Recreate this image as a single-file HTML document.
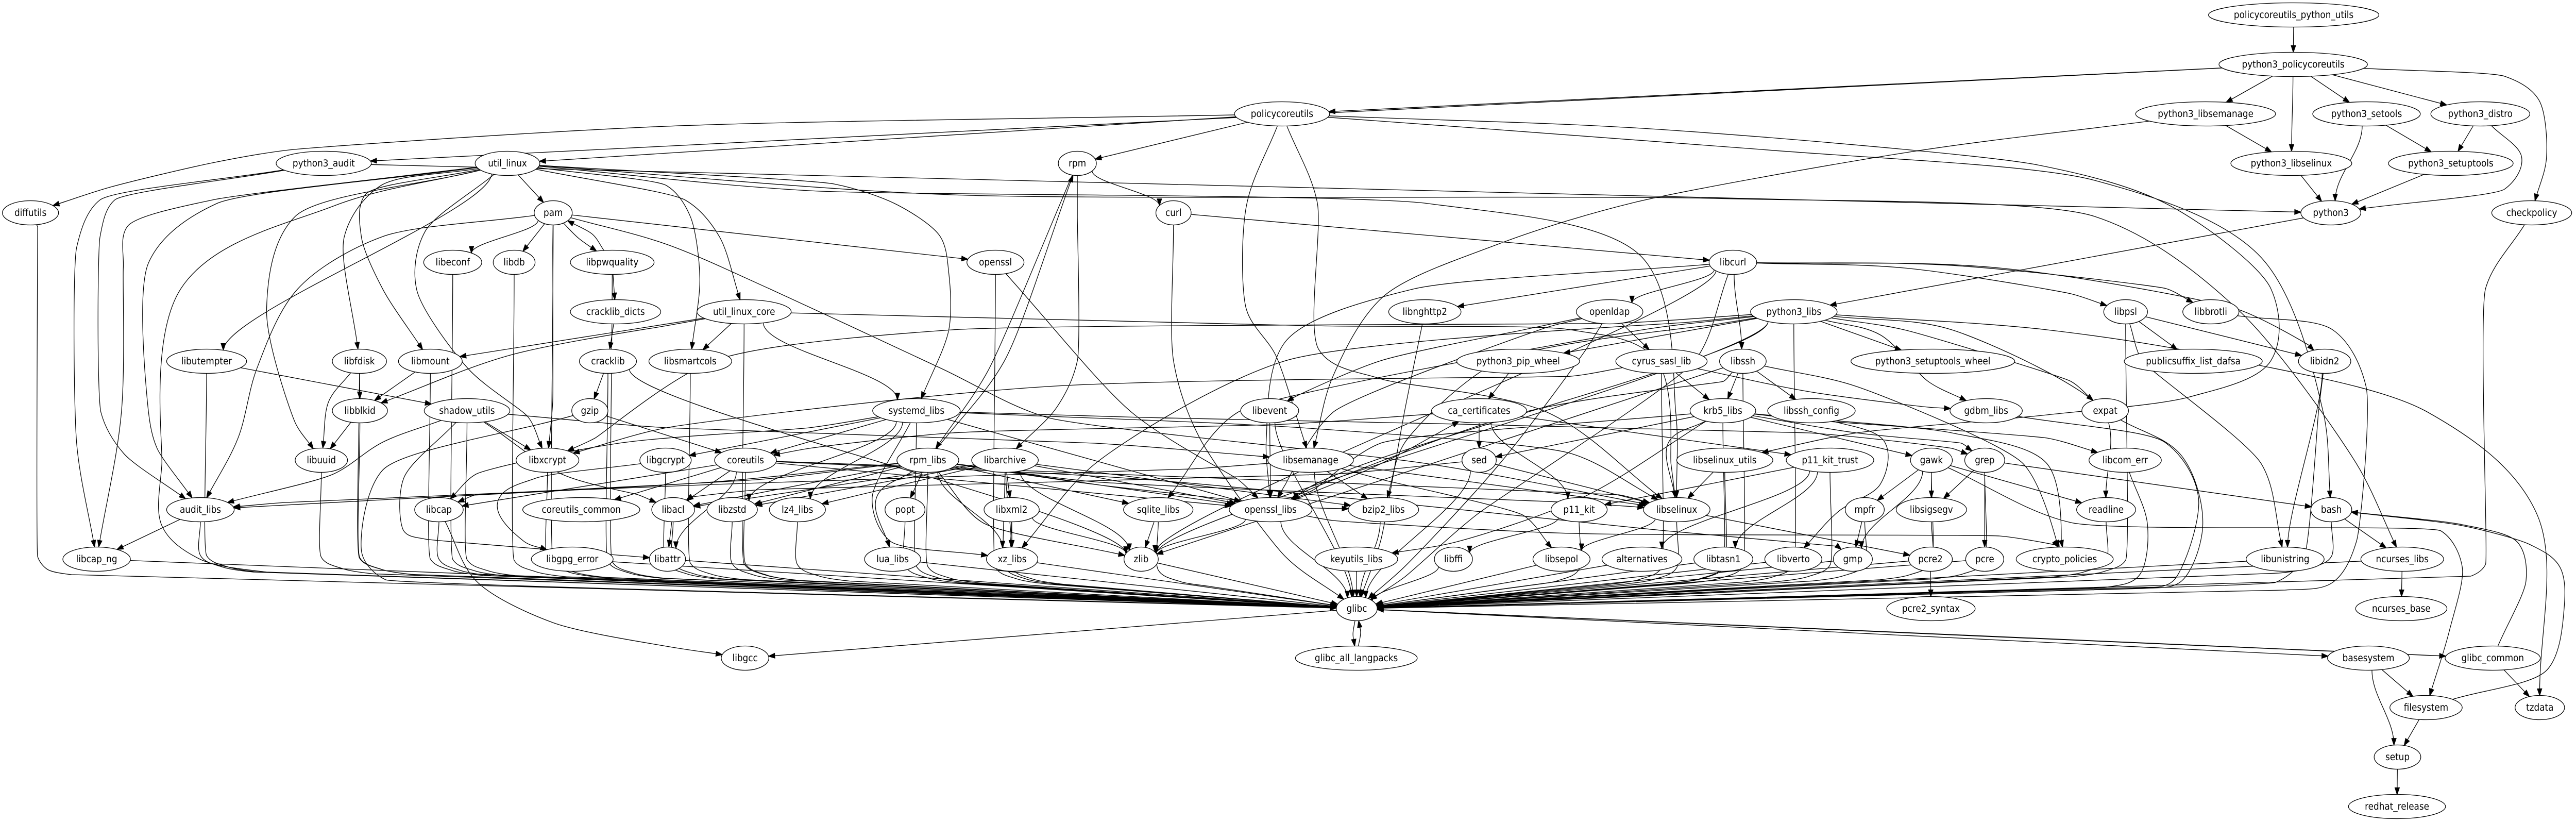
<!DOCTYPE html>
<html><head><meta charset="utf-8"><style>
html,body{margin:0;padding:0;background:#fff;width:100%;height:100%;overflow:hidden;}
svg{display:block;width:100vw;height:100vh;}
#nodes ellipse{fill:#fff;stroke:#000;stroke-width:1.33;}
#nodes text{font-family:"DejaVu Sans","Liberation Sans",sans-serif;font-size:18.2px;text-anchor:middle;fill:#000;}
</style></head><body>
<svg xmlns="http://www.w3.org/2000/svg" viewBox="0 0 5411 1595" preserveAspectRatio="none">
<rect width="5411" height="1595" fill="#fff"/>
<g id="edges"><path id="ep" fill="none" stroke="#000" stroke-width="1.33"/><path id="ap" fill="#000" stroke="#000" stroke-width="1.33"/></g>
<g id="nodes">
<ellipse id="policycoreutils_python_utils" cx="4818" cy="29" rx="179" ry="23.5"/><text x="4818" y="35">policycoreutils_python_utils</text>
<ellipse id="python3_policycoreutils" cx="4817" cy="125" rx="156" ry="23.5"/><text x="4817" y="131">python3_policycoreutils</text>
<ellipse id="policycoreutils" cx="2693" cy="221" rx="100" ry="23.5"/><text x="2693" y="227">policycoreutils</text>
<ellipse id="python3_libsemanage" cx="4633" cy="221" rx="147" ry="23.5"/><text x="4633" y="227">python3_libsemanage</text>
<ellipse id="python3_setools" cx="4971" cy="221" rx="113" ry="23.5"/><text x="4971" y="227">python3_setools</text>
<ellipse id="python3_distro" cx="5210" cy="221" rx="104" ry="23.5"/><text x="5210" y="227">python3_distro</text>
<ellipse id="python3_audit" cx="680" cy="317" rx="100" ry="23.5"/><text x="680" y="323">python3_audit</text>
<ellipse id="util_linux" cx="1066" cy="317" rx="68" ry="23.5"/><text x="1066" y="323">util_linux</text>
<ellipse id="rpm" cx="2263" cy="317" rx="40" ry="23.5"/><text x="2263" y="323">rpm</text>
<ellipse id="python3_libselinux" cx="4813" cy="317" rx="127" ry="23.5"/><text x="4813" y="323">python3_libselinux</text>
<ellipse id="python3_setuptools" cx="5148" cy="317" rx="131" ry="23.5"/><text x="5148" y="323">python3_setuptools</text>
<ellipse id="diffutils" cx="64" cy="413" rx="59" ry="23.5"/><text x="64" y="419">diffutils</text>
<ellipse id="pam" cx="1162" cy="413" rx="40" ry="23.5"/><text x="1162" y="419">pam</text>
<ellipse id="curl" cx="2465" cy="413" rx="37" ry="23.5"/><text x="2465" y="419">curl</text>
<ellipse id="python3" cx="4896" cy="413" rx="63" ry="23.5"/><text x="4896" y="419">python3</text>
<ellipse id="checkpolicy" cx="5318" cy="413" rx="84" ry="23.5"/><text x="5318" y="419">checkpolicy</text>
<ellipse id="libeconf" cx="951" cy="509" rx="61" ry="23.5"/><text x="951" y="515">libeconf</text>
<ellipse id="libdb" cx="1080" cy="509" rx="44" ry="23.5"/><text x="1080" y="515">libdb</text>
<ellipse id="libpwquality" cx="1286" cy="509" rx="88" ry="23.5"/><text x="1286" y="515">libpwquality</text>
<ellipse id="openssl" cx="2091" cy="509" rx="60" ry="23.5"/><text x="2091" y="515">openssl</text>
<ellipse id="libcurl" cx="3640" cy="509" rx="50" ry="23.5"/><text x="3640" y="515">libcurl</text>
<ellipse id="cracklib_dicts" cx="1293" cy="605" rx="95" ry="23.5"/><text x="1293" y="611">cracklib_dicts</text>
<ellipse id="util_linux_core" cx="1563" cy="605" rx="99" ry="23.5"/><text x="1563" y="611">util_linux_core</text>
<ellipse id="libnghttp2" cx="2993" cy="605" rx="76" ry="23.5"/><text x="2993" y="611">libnghttp2</text>
<ellipse id="openldap" cx="3381" cy="605" rx="70" ry="23.5"/><text x="3381" y="611">openldap</text>
<ellipse id="python3_libs" cx="3768" cy="605" rx="91" ry="23.5"/><text x="3768" y="611">python3_libs</text>
<ellipse id="libpsl" cx="4465" cy="605" rx="46" ry="23.5"/><text x="4465" y="611">libpsl</text>
<ellipse id="libbrotli" cx="4644" cy="605" rx="59" ry="23.5"/><text x="4644" y="611">libbrotli</text>
<ellipse id="libutempter" cx="434" cy="701" rx="84" ry="23.5"/><text x="434" y="707">libutempter</text>
<ellipse id="libfdisk" cx="755" cy="701" rx="57" ry="23.5"/><text x="755" y="707">libfdisk</text>
<ellipse id="libmount" cx="904" cy="701" rx="67" ry="23.5"/><text x="904" y="707">libmount</text>
<ellipse id="cracklib" cx="1277" cy="701" rx="60" ry="23.5"/><text x="1277" y="707">cracklib</text>
<ellipse id="libsmartcols" cx="1450" cy="701" rx="87" ry="23.5"/><text x="1450" y="707">libsmartcols</text>
<ellipse id="python3_pip_wheel" cx="3189" cy="701" rx="129" ry="23.5"/><text x="3189" y="707">python3_pip_wheel</text>
<ellipse id="cyrus_sasl_lib" cx="3490" cy="701" rx="96" ry="23.5"/><text x="3490" y="707">cyrus_sasl_lib</text>
<ellipse id="libssh" cx="3661" cy="701" rx="49" ry="23.5"/><text x="3661" y="707">libssh</text>
<ellipse id="python3_setuptools_wheel" cx="4060" cy="701" rx="172" ry="23.5"/><text x="4060" y="707">python3_setuptools_wheel</text>
<ellipse id="publicsuffix_list_dafsa" cx="4607" cy="701" rx="145" ry="23.5"/><text x="4607" y="707">publicsuffix_list_dafsa</text>
<ellipse id="libidn2" cx="4883" cy="701" rx="55" ry="23.5"/><text x="4883" y="707">libidn2</text>
<ellipse id="libblkid" cx="756" cy="797" rx="58" ry="23.5"/><text x="756" y="803">libblkid</text>
<ellipse id="shadow_utils" cx="981" cy="797" rx="90" ry="23.5"/><text x="981" y="803">shadow_utils</text>
<ellipse id="gzip" cx="1239" cy="797" rx="38" ry="23.5"/><text x="1239" y="803">gzip</text>
<ellipse id="systemd_libs" cx="1925" cy="797" rx="92" ry="23.5"/><text x="1925" y="803">systemd_libs</text>
<ellipse id="libevent" cx="2667" cy="797" rx="61" ry="23.5"/><text x="2667" y="803">libevent</text>
<ellipse id="ca_certificates" cx="3107" cy="797" rx="100" ry="23.5"/><text x="3107" y="803">ca_certificates</text>
<ellipse id="krb5_libs" cx="3619" cy="797" rx="69" ry="23.5"/><text x="3619" y="803">krb5_libs</text>
<ellipse id="libssh_config" cx="3805" cy="797" rx="92" ry="23.5"/><text x="3805" y="803">libssh_config</text>
<ellipse id="gdbm_libs" cx="4172" cy="797" rx="76" ry="23.5"/><text x="4172" y="803">gdbm_libs</text>
<ellipse id="expat" cx="4422" cy="797" rx="49" ry="23.5"/><text x="4422" y="803">expat</text>
<ellipse id="libuuid" cx="675" cy="893" rx="55" ry="23.5"/><text x="675" y="899">libuuid</text>
<ellipse id="libxcrypt" cx="1150" cy="893" rx="66" ry="23.5"/><text x="1150" y="899">libxcrypt</text>
<ellipse id="libgcrypt" cx="1398" cy="893" rx="54" ry="23.5"/><text x="1398" y="899">libgcrypt</text>
<ellipse id="coreutils" cx="1566" cy="893" rx="65" ry="23.5"/><text x="1566" y="899">coreutils</text>
<ellipse id="rpm_libs" cx="1949" cy="893" rx="65" ry="23.5"/><text x="1949" y="899">rpm_libs</text>
<ellipse id="libarchive" cx="2111" cy="893" rx="70" ry="23.5"/><text x="2111" y="899">libarchive</text>
<ellipse id="libsemanage" cx="2753" cy="893" rx="90" ry="23.5"/><text x="2753" y="899">libsemanage</text>
<ellipse id="sed" cx="3107" cy="893" rx="36" ry="23.5"/><text x="3107" y="899">sed</text>
<ellipse id="libselinux_utils" cx="3623" cy="893" rx="101" ry="23.5"/><text x="3623" y="899">libselinux_utils</text>
<ellipse id="p11_kit_trust" cx="3844" cy="893" rx="92" ry="23.5"/><text x="3844" y="899">p11_kit_trust</text>
<ellipse id="gawk" cx="4057" cy="893" rx="44" ry="23.5"/><text x="4057" y="899">gawk</text>
<ellipse id="grep" cx="4169" cy="893" rx="42" ry="23.5"/><text x="4169" y="899">grep</text>
<ellipse id="libcom_err" cx="4464" cy="893" rx="76" ry="23.5"/><text x="4464" y="899">libcom_err</text>
<ellipse id="audit_libs" cx="421" cy="989" rx="71" ry="23.5"/><text x="421" y="995">audit_libs</text>
<ellipse id="libcap" cx="922" cy="989" rx="51" ry="23.5"/><text x="922" y="995">libcap</text>
<ellipse id="coreutils_common" cx="1221" cy="989" rx="123" ry="23.5"/><text x="1221" y="995">coreutils_common</text>
<ellipse id="libacl" cx="1414" cy="989" rx="45" ry="23.5"/><text x="1414" y="995">libacl</text>
<ellipse id="libzstd" cx="1538" cy="989" rx="53" ry="23.5"/><text x="1538" y="995">libzstd</text>
<ellipse id="lz4_libs" cx="1675" cy="989" rx="59" ry="23.5"/><text x="1675" y="995">lz4_libs</text>
<ellipse id="popt" cx="1901" cy="989" rx="42" ry="23.5"/><text x="1901" y="995">popt</text>
<ellipse id="libxml2" cx="2125" cy="989" rx="58" ry="23.5"/><text x="2125" y="995">libxml2</text>
<ellipse id="sqlite_libs" cx="2433" cy="989" rx="73" ry="23.5"/><text x="2433" y="995">sqlite_libs</text>
<ellipse id="openssl_libs" cx="2669" cy="989" rx="87" ry="23.5"/><text x="2669" y="995">openssl_libs</text>
<ellipse id="bzip2_libs" cx="2906" cy="989" rx="74" ry="23.5"/><text x="2906" y="995">bzip2_libs</text>
<ellipse id="p11_kit" cx="3317" cy="989" rx="59" ry="23.5"/><text x="3317" y="995">p11_kit</text>
<ellipse id="libselinux" cx="3522" cy="989" rx="70" ry="23.5"/><text x="3522" y="995">libselinux</text>
<ellipse id="mpfr" cx="3917" cy="989" rx="41" ry="23.5"/><text x="3917" y="995">mpfr</text>
<ellipse id="libsigsegv" cx="4057" cy="989" rx="74" ry="23.5"/><text x="4057" y="995">libsigsegv</text>
<ellipse id="readline" cx="4424" cy="989" rx="62" ry="23.5"/><text x="4424" y="995">readline</text>
<ellipse id="bash" cx="4897" cy="989" rx="43" ry="23.5"/><text x="4897" y="995">bash</text>
<ellipse id="libcap_ng" cx="203" cy="1085" rx="71" ry="23.5"/><text x="203" y="1091">libcap_ng</text>
<ellipse id="libgpg_error" cx="1202" cy="1085" rx="86" ry="23.5"/><text x="1202" y="1091">libgpg_error</text>
<ellipse id="libattr" cx="1402" cy="1085" rx="38" ry="23.5"/><text x="1402" y="1091">libattr</text>
<ellipse id="lua_libs" cx="1875" cy="1085" rx="59" ry="23.5"/><text x="1875" y="1091">lua_libs</text>
<ellipse id="xz_libs" cx="2126" cy="1085" rx="54" ry="23.5"/><text x="2126" y="1091">xz_libs</text>
<ellipse id="zlib" cx="2397" cy="1085" rx="36" ry="23.5"/><text x="2397" y="1091">zlib</text>
<ellipse id="keyutils_libs" cx="2849" cy="1085" rx="87" ry="23.5"/><text x="2849" y="1091">keyutils_libs</text>
<ellipse id="libffi" cx="3053" cy="1085" rx="40" ry="23.5"/><text x="3053" y="1091">libffi</text>
<ellipse id="libsepol" cx="3280" cy="1085" rx="60" ry="23.5"/><text x="3280" y="1091">libsepol</text>
<ellipse id="alternatives" cx="3449" cy="1085" rx="84" ry="23.5"/><text x="3449" y="1091">alternatives</text>
<ellipse id="libtasn1" cx="3620" cy="1085" rx="62" ry="23.5"/><text x="3620" y="1091">libtasn1</text>
<ellipse id="libverto" cx="3767" cy="1085" rx="60" ry="23.5"/><text x="3767" y="1091">libverto</text>
<ellipse id="gmp" cx="3892" cy="1085" rx="41" ry="23.5"/><text x="3892" y="1091">gmp</text>
<ellipse id="pcre2" cx="4055" cy="1085" rx="46" ry="23.5"/><text x="4055" y="1091">pcre2</text>
<ellipse id="pcre" cx="4169" cy="1085" rx="40" ry="23.5"/><text x="4169" y="1091">pcre</text>
<ellipse id="crypto_policies" cx="4337" cy="1085" rx="102" ry="23.5"/><text x="4337" y="1091">crypto_policies</text>
<ellipse id="libunistring" cx="4800" cy="1085" rx="82" ry="23.5"/><text x="4800" y="1091">libunistring</text>
<ellipse id="ncurses_libs" cx="5046" cy="1085" rx="87" ry="23.5"/><text x="5046" y="1091">ncurses_libs</text>
<ellipse id="glibc" cx="2850" cy="1181" rx="43" ry="23.5"/><text x="2850" y="1187">glibc</text>
<ellipse id="pcre2_syntax" cx="4056" cy="1181" rx="93" ry="23.5"/><text x="4056" y="1187">pcre2_syntax</text>
<ellipse id="ncurses_base" cx="5044" cy="1181" rx="96" ry="23.5"/><text x="5044" y="1187">ncurses_base</text>
<ellipse id="libgcc" cx="1565" cy="1277" rx="50" ry="23.5"/><text x="1565" y="1283">libgcc</text>
<ellipse id="glibc_all_langpacks" cx="2849" cy="1277" rx="128" ry="23.5"/><text x="2849" y="1283">glibc_all_langpacks</text>
<ellipse id="basesystem" cx="4975" cy="1277" rx="86" ry="23.5"/><text x="4975" y="1283">basesystem</text>
<ellipse id="glibc_common" cx="5236" cy="1277" rx="100" ry="23.5"/><text x="5236" y="1283">glibc_common</text>
<ellipse id="filesystem" cx="5096" cy="1373" rx="76" ry="23.5"/><text x="5096" y="1379">filesystem</text>
<ellipse id="tzdata" cx="5335" cy="1373" rx="52" ry="23.5"/><text x="5335" y="1379">tzdata</text>
<ellipse id="setup" cx="5036" cy="1469" rx="49" ry="23.5"/><text x="5036" y="1475">setup</text>
<ellipse id="redhat_release" cx="5035" cy="1565" rx="102" ry="23.5"/><text x="5035" y="1571">redhat_release</text>
</g>
</svg>
<script>
(function(){
function N(n){var e=document.getElementById(n);return{x:+e.getAttribute('cx'),y:+e.getAttribute('cy'),rx:+e.getAttribute('rx'),ry:+e.getAttribute('ry')};}
function clip(A,px,py){var dx=px-A.x,dy=py-A.y;var s=1/Math.sqrt((dx/A.rx)*(dx/A.rx)+(dy/A.ry)*(dy/A.ry));return[A.x+dx*s,A.y+dy*s];}
function f(p){return p[0].toFixed(1)+','+p[1].toFixed(1);}
function unit(a,b){var dx=b[0]-a[0],dy=b[1]-a[1];var l=Math.sqrt(dx*dx+dy*dy)||1;return[dx/l,dy/l];}
function dist(a,b){var dx=b[0]-a[0],dy=b[1]-a[1];return Math.sqrt(dx*dx+dy*dy);}
var W={
"python3_policycoreutils>checkpolicy":[[5261,148],[5333,194],[5349,306]],
"python3_libsemanage>libsemanage":[[4011,295],[3432,393],[3146,474],[2905,576],[2800,730]],
"python3_distro>python3":[[5297,306],[5261,367]],
"checkpolicy>glibc":[[5221,560],[5221,1095],[5190,1118]],
"policycoreutils>diffutils":[[1400,245],[607,291],[446,316],[232,363]],
"policycoreutils>libsemanage":[[2618,400],[2618,600],[2680,690]],
"policycoreutils>libselinux":[[2767,393],[2770,678],[2900,735],[3250,800]],
"policycoreutils>libselinux_utils":[[3500,252],[4280,320],[4560,400],[4770,560],[4770,700],[4600,770],[4300,805],[3900,840]],
"policycoreutils>bash":[[3700,290],[4400,350],[4750,500],[4880,800]],
"python3_audit>audit_libs":[[241,388],[210,460],[212,800],[260,880]],
"python3_audit>libcap_ng":[[210,388],[161,480],[161,860]],
"util_linux>libfdisk":[[800,360],[723,460]],
"util_linux>libmount":[[768,377],[759,459],[804,561]],
"util_linux>libsmartcols":[[1400,360],[1450,420],[1470,540]],
"util_linux>util_linux_core":[[1439,388],[1511,459]],
"util_linux>systemd_libs":[[1752,357],[1886,398],[1975,459],[1993,530],[1993,640]],
"util_linux>libxcrypt":[[893,449],[875,561],[982,714],[1110,810]],
"util_linux>libcap_ng":[[446,388],[268,439],[259,520],[255,800]],
"util_linux>audit_libs":[[455,395],[312,510],[312,800],[330,870]],
"util_linux>glibc":[[700,400],[380,560],[340,900],[340,1020],[420,1085],[560,1110]],
"util_linux>libselinux":[[1700,370],[3000,395],[3450,500],[3520,800]],
"util_linux>ncurses_libs":[[2000,378],[3600,385],[4400,420],[4700,600],[4950,900]],
"util_linux>libuuid":[[620,420],[560,600],[620,820]],
"pam>libpwquality":[[1215,462]],
"libpwquality>pam":[[1245,455]],
"pam>libxcrypt":[[1161,480],[1161,780]],
"pam>audit_libs":[[804,459],[625,561],[540,714],[500,850]],
"pam>libselinux":[[1400,474],[1618,561],[1975,714],[2200,810],[3000,900]],
"openssl>openssl_libs":[[2377,800],[2600,930]],
"rpm>rpm_libs":[[2075,720]],
"rpm_libs>rpm":[[2110,700]],
"rpm>libarchive":[[2263,420],[2263,700],[2220,790]],
"curl>glibc":[[2465,700],[2520,850],[2700,1080]],
"libcurl>libpsl":[[4000,520],[4350,570]],
"libcurl>libbrotli":[[4100,515],[4550,560]],
"libcurl>libidn2":[[4200,520],[4700,600],[4850,670]],
"libcurl>openssl_libs":[[2968,561],[2700,663],[2660,850]],
"libcurl>glibc":[[3560,700],[3100,1000],[2950,1120]],
"util_linux_core>libblkid":[[1400,632],[1072,689]],
"util_linux_core>libselinux":[[2750,632],[3300,640],[3480,700],[3510,900]],
"python3_libs>gdbm_libs":[[3950,650],[4050,740]],
"python3_libs>expat":[[4000,640],[4350,740]],
"python3_libs>bzip2_libs":[[3600,630],[3150,700],[2950,860]],
"python3_libs>xz_libs":[[3550,625],[2700,700],[2300,900]],
"python3_libs>sqlite_libs":[[3450,640],[2600,800]],
"python3_libs>libxcrypt":[[3400,627],[2000,640],[1500,700],[1250,850]],
"python3_libs>tzdata":[[4300,640],[4700,700],[5100,800],[5330,1000]],
"python3_libs>readline":[[4100,640],[4420,800]],
"openldap>libevent":[[3200,640],[2900,700],[2720,770]],
"openldap>openssl_libs":[[3250,635],[2800,800],[2700,940]],
"openldap>glibc":[[3330,680],[3150,900],[2950,1100]],
"libnghttp2>glibc":[[2950,800],[2900,1050]],
"cyrus_sasl_lib>gdbm_libs":[[3800,760],[4050,790]],
"cyrus_sasl_lib>libxcrypt":[[3300,730],[2200,750],[1400,830]],
"libssh>openssl_libs":[[3620,740],[3200,800],[2750,950]],
"libssh>crypto_policies":[[3900,750],[4250,900],[4320,1050]],
"libpsl>libunistring":[[4500,700],[4750,900]],
"libbrotli>glibc":[[4900,640],[4970,750],[4950,1050],[4900,1130],[4800,1145]],
"libidn2>glibc":[[4870,800],[4840,1080],[4780,1130]],
"libfdisk>libuuid":[[690,780]],
"shadow_utils>audit_libs":[[804,858],[700,920]],
"shadow_utils>libacl":[[1050,840],[1180,920],[1340,960]],
"shadow_utils>libattr":[[848,928],[848,1030],[893,1046]],
"shadow_utils>libsemanage":[[1400,830],[2300,860]],
"gzip>glibc":[[804,912],[760,1073],[810,1125]],
"systemd_libs>libcap":[[1700,830],[1300,860],[1000,920]],
"systemd_libs>xz_libs":[[1832,966],[1870,1050]],
"systemd_libs>libselinux":[[2750,831],[3300,880]],
"systemd_libs>grep":[[2400,810],[3800,840],[4100,870]],
"ca_certificates>coreutils":[[2700,823],[2000,840],[1700,870]],
"krb5_libs>keyutils_libs":[[3325,965],[3057,1052]],
"krb5_libs>libcom_err":[[3800,815],[4300,850]],
"krb5_libs>libselinux":[[3504,860]],
"krb5_libs>libverto":[[3861,820],[3959,858],[3950,939],[3861,993]],
"krb5_libs>openssl_libs":[[2900,860],[2760,950]],
"krb5_libs>grep":[[3900,840],[4120,860]],
"krb5_libs>crypto_policies":[[4100,840],[4300,900],[4330,1050]],
"gdbm_libs>glibc":[[4547,858],[4618,966],[4565,1127],[4480,1140]],
"expat>glibc":[[4583,885],[4627,1019],[4583,1127],[4500,1142]],
"libgcrypt>libgpg_error":[[1125,928],[1045,976],[1100,1050]],
"coreutils>libselinux":[[2200,915],[3400,960]],
"coreutils>gmp":[[2400,930],[3500,1030],[3860,1060]],
"rpm_libs>lua_libs":[[1841,966]],
"rpm_libs>zlib":[[2064,1014]],
"rpm_libs>libcap":[[1600,930],[1000,960]],
"rpm_libs>audit_libs":[[1500,935],[800,970],[500,985]],
"rpm_libs>bzip2_libs":[[2300,940],[2750,985]],
"rpm_libs>libselinux":[[2300,935],[3300,975]],
"libsemanage>audit_libs":[[2500,910],[1500,940],[600,975]],
"libsemanage>libsepol":[[2900,930],[3200,1000]],
"sed>libacl":[[2800,920],[1600,950],[1450,965]],
"gawk>filesystem":[[4350,1014],[5127,1030],[5172,1100],[5145,1224]],
"libcom_err>glibc":[[4511,1019],[4493,1117],[4420,1140]],
"libcap>libgcc":[[1000,1127],[1161,1208],[1400,1254]],
"openssl_libs>ca_certificates":[[2900,900]],
"openssl_libs>crypto_policies":[[2800,1010],[3300,1035],[4200,1040],[4320,1058]],
"glibc>glibc_all_langpacks":[[2842,1230]],
"glibc_all_langpacks>glibc":[[2858,1228]],
"glibc>glibc_common":[[4100,1232]],
"filesystem>bash":[[5350,1300],[5386,1181],[5377,1100],[5315,1057],[5172,1020]],
"glibc_common>bash":[[5306,1127],[5288,1052],[5172,1018]],
"diffutils>glibc":[[79,440],[79,1080],[100,1105],[150,1115]]
};
var L=("policycoreutils_python_utils>python3_policycoreutils python3_policycoreutils>python3_libsemanage python3_policycoreutils>python3_libselinux python3_policycoreutils>python3_setools python3_policycoreutils>python3_distro python3_policycoreutils>checkpolicy python3_policycoreutils>policycoreutils python3_policycoreutils>python3_audit python3_libsemanage>python3_libselinux python3_libsemanage>libsemanage python3_setools>python3 python3_setools>python3_setuptools python3_distro>python3_setuptools python3_distro>python3 python3_setuptools>python3 python3_libselinux>python3 checkpolicy>glibc python3>python3_libs "+
"policycoreutils>diffutils policycoreutils>util_linux policycoreutils>rpm policycoreutils>libsemanage policycoreutils>libselinux policycoreutils>libselinux_utils policycoreutils>bash python3_audit>audit_libs python3_audit>libcap_ng python3_audit>python3 "+
"util_linux>pam util_linux>libutempter util_linux>libfdisk util_linux>libmount util_linux>libsmartcols util_linux>util_linux_core util_linux>systemd_libs util_linux>libxcrypt util_linux>libcap_ng util_linux>audit_libs util_linux>glibc util_linux>libselinux util_linux>ncurses_libs util_linux>libuuid "+
"pam>libeconf pam>libdb pam>libpwquality pam>openssl pam>libxcrypt pam>audit_libs pam>libselinux pam>glibc libpwquality>pam libpwquality>cracklib_dicts libpwquality>glibc libeconf>glibc libdb>glibc cracklib_dicts>cracklib cracklib>gzip cracklib>glibc cracklib>zlib gzip>coreutils gzip>glibc openssl>openssl_libs openssl>glibc "+
"rpm>curl rpm>rpm_libs rpm_libs>rpm rpm>libarchive curl>libcurl curl>glibc libcurl>libnghttp2 libcurl>openldap libcurl>libssh libcurl>libpsl libcurl>libbrotli libcurl>libidn2 libcurl>openssl_libs libcurl>zlib libcurl>glibc "+
"util_linux_core>libmount util_linux_core>libblkid util_linux_core>libsmartcols util_linux_core>systemd_libs util_linux_core>libselinux util_linux_core>glibc "+
"python3_libs>python3_pip_wheel python3_libs>python3_setuptools_wheel python3_libs>gdbm_libs python3_libs>expat python3_libs>bzip2_libs python3_libs>xz_libs python3_libs>sqlite_libs python3_libs>openssl_libs python3_libs>libxcrypt python3_libs>readline python3_libs>tzdata python3_libs>zlib python3_libs>glibc "+
"openldap>cyrus_sasl_lib openldap>libevent openldap>openssl_libs openldap>glibc libnghttp2>glibc cyrus_sasl_lib>krb5_libs cyrus_sasl_lib>gdbm_libs cyrus_sasl_lib>libxcrypt cyrus_sasl_lib>glibc libssh>krb5_libs libssh>libssh_config libssh>openssl_libs libssh>zlib libssh>glibc libssh>crypto_policies "+
"libpsl>publicsuffix_list_dafsa libpsl>libidn2 libpsl>libunistring libpsl>glibc libbrotli>glibc libidn2>libunistring libidn2>glibc python3_pip_wheel>ca_certificates libutempter>shadow_utils libutempter>glibc libfdisk>libblkid libfdisk>libuuid libfdisk>glibc libmount>libblkid libmount>glibc libsmartcols>glibc libblkid>libuuid libblkid>glibc "+
"shadow_utils>libxcrypt shadow_utils>audit_libs shadow_utils>libacl shadow_utils>libattr shadow_utils>libsemanage shadow_utils>glibc systemd_libs>coreutils systemd_libs>libgcrypt systemd_libs>libcap systemd_libs>libzstd systemd_libs>lz4_libs systemd_libs>xz_libs systemd_libs>libselinux systemd_libs>openssl_libs systemd_libs>glibc systemd_libs>grep "+
"libevent>openssl_libs libevent>glibc ca_certificates>sed ca_certificates>coreutils ca_certificates>p11_kit_trust ca_certificates>p11_kit krb5_libs>keyutils_libs krb5_libs>libcom_err krb5_libs>libselinux krb5_libs>libverto krb5_libs>openssl_libs krb5_libs>sed krb5_libs>gawk krb5_libs>grep krb5_libs>crypto_policies krb5_libs>glibc gdbm_libs>glibc expat>glibc "+
"libuuid>glibc libxcrypt>glibc libgcrypt>libgpg_error libgcrypt>glibc coreutils>coreutils_common coreutils>libacl coreutils>libattr coreutils>libcap coreutils>openssl_libs coreutils>libselinux coreutils>gmp coreutils>glibc "+
"rpm_libs>popt rpm_libs>lua_libs rpm_libs>xz_libs rpm_libs>zlib rpm_libs>libzstd rpm_libs>libacl rpm_libs>libcap rpm_libs>audit_libs rpm_libs>sqlite_libs rpm_libs>openssl_libs rpm_libs>bzip2_libs rpm_libs>libselinux rpm_libs>glibc "+
"libarchive>libacl libarchive>libzstd libarchive>lz4_libs libarchive>libxml2 libarchive>xz_libs libarchive>zlib libarchive>bzip2_libs libarchive>openssl_libs libarchive>glibc libsemanage>audit_libs libsemanage>bzip2_libs libsemanage>libselinux libsemanage>libsepol libsemanage>glibc sed>libacl sed>libselinux sed>glibc libselinux_utils>libselinux libselinux_utils>glibc "+
"p11_kit_trust>p11_kit p11_kit_trust>libtasn1 p11_kit_trust>alternatives p11_kit_trust>glibc gawk>mpfr gawk>gmp gawk>libsigsegv gawk>readline gawk>filesystem gawk>glibc grep>pcre grep>libsigsegv grep>bash grep>glibc libcom_err>glibc "+
"audit_libs>libcap_ng audit_libs>glibc libcap>libgcc libcap>glibc libacl>libattr libacl>glibc libzstd>glibc lz4_libs>glibc popt>glibc libxml2>xz_libs libxml2>zlib libxml2>glibc sqlite_libs>zlib sqlite_libs>glibc openssl_libs>ca_certificates openssl_libs>crypto_policies openssl_libs>zlib openssl_libs>glibc bzip2_libs>glibc p11_kit>libffi p11_kit>glibc "+
"libselinux>libsepol libselinux>pcre2 libselinux>glibc mpfr>gmp mpfr>glibc libsigsegv>glibc readline>glibc bash>ncurses_libs bash>glibc libcap_ng>glibc libgpg_error>glibc libattr>glibc lua_libs>glibc xz_libs>glibc zlib>glibc keyutils_libs>glibc libffi>glibc libsepol>glibc alternatives>glibc libtasn1>glibc libverto>glibc gmp>glibc "+
"pcre2>pcre2_syntax pcre2>glibc pcre>glibc libunistring>glibc ncurses_libs>ncurses_base ncurses_libs>glibc glibc>glibc_all_langpacks glibc_all_langpacks>glibc glibc>libgcc glibc>basesystem glibc>glibc_common glibc_common>glibc glibc_common>bash glibc_common>tzdata basesystem>filesystem basesystem>setup filesystem>setup filesystem>bash setup>redhat_release diffutils>glibc").split(/\s+/);
var d='',ah='';
function arrow(c,t){var dx=t[0]-c[0],dy=t[1]-c[1];var l=Math.sqrt(dx*dx+dy*dy)||1;dx/=l;dy/=l;var bx=t[0]-dx*13,by=t[1]-dy*13;ah+='M'+f(t)+'L'+f([bx-dy*4.7,by+dx*4.7])+'L'+f([bx+dy*4.7,by-dx*4.7])+'Z';}
function tangent(pts,i){var n=pts.length;if(i===0)return unit(pts[0],pts[1]);if(i===n-1)return unit(pts[n-2],pts[n-1]);
 var a=unit(pts[i-1],pts[i]),b=unit(pts[i],pts[i+1]);var x=a[0]+b[0],y=a[1]+b[1];var l=Math.sqrt(x*x+y*y)||1;return[x/l,y/l];}
function scl(pts,i){var n=pts.length;if(i===0)return dist(pts[0],pts[1]);if(i===n-1)return dist(pts[n-2],pts[n-1]);
 return Math.min(dist(pts[i-1],pts[i]),dist(pts[i],pts[i+1]));}
L.forEach(function(s){if(!s)return;var ab=s.split('>');var A=N(ab[0]),B=N(ab[1]);var pts=null;var w=W[s];
 if(w){pts=[clip(A,w[0][0],w[0][1])].concat(w,[clip(B,w[w.length-1][0],w[w.length-1][1])]);}
 else if(ab[1]==='glibc'&&A.y<1050&&Math.abs(A.x-B.x)>300){var sg=A.x<B.x?1:-1;var t=sg>0?A.x/2850:(5411-A.x)/2561;var yl=Math.max(1072+40*t,A.y+A.ry+30);var w1=[A.x,yl],w2=[A.x+sg*45,yl+22],w3=[A.x+sg*110,yl+32];pts=[[A.x,A.y+A.ry],w1,w2,w3,clip(B,w3[0],w3[1])];}
 if(pts){var s2='M'+f(pts[0]);var lc=pts[0];var n=pts.length;
  for(var i=0;i<n-1;i++){var p1=pts[i],p2=pts[i+1];var t1=tangent(pts,i),t2=tangent(pts,i+1);
   var a1=Math.min(scl(pts,i),dist(p1,p2))/3,a2=Math.min(scl(pts,i+1),dist(p1,p2))/3;
   var c1=[p1[0]+t1[0]*a1,p1[1]+t1[1]*a1],c2=[p2[0]-t2[0]*a2,p2[1]-t2[1]*a2];
   s2+='C'+f(c1)+' '+f(c2)+' '+f(p2);lc=c2;}
  d+=s2;var e=pts[n-1];
  arrow((Math.abs(lc[0]-e[0])+Math.abs(lc[1]-e[1])>1)?lc:pts[n-2],e);}
 else{var P0=clip(A,B.x,B.y),P3=clip(B,A.x,A.y);var dx=P3[0]-P0[0],dy=P3[1]-P0[1];
  if(Math.abs(dy)<60||Math.abs(dx)>3*Math.abs(dy)){d+='M'+f(P0)+'L'+f(P3);arrow(P0,P3);}
  else{var k=Math.min(Math.abs(dy)*0.35,70)*(dy>0?1:-1);var c1=[P0[0],P0[1]+k],c2=[P3[0],P3[1]-k];d+='M'+f(P0)+'C'+f(c1)+' '+f(c2)+' '+f(P3);arrow(c2,P3);}}
});
document.getElementById('ep').setAttribute('d',d);
document.getElementById('ap').setAttribute('d',ah);
})();
</script>
</body></html>
